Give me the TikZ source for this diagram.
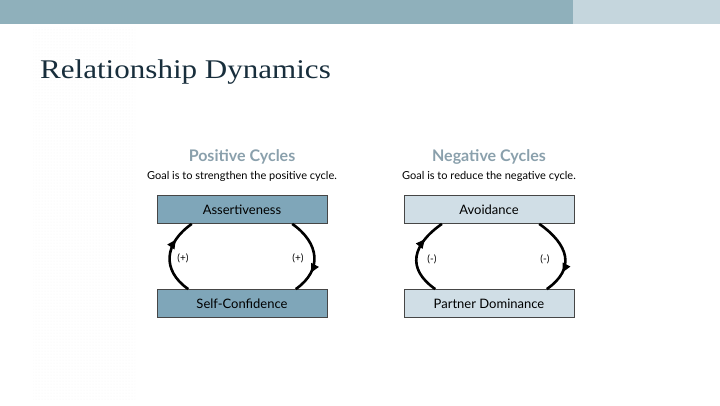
\documentclass[tikz,border=0pt]{standalone}
\usepackage{fontspec}
\setmainfont{Lato}
\newfontfamily\titlefont[FakeStretch=1.15]{Liberation Serif}
\usepackage{tikz}
\usetikzlibrary{positioning, arrows.meta, decorations.markings, patterns}
\definecolor{barblue}{RGB}{143, 176, 187}
\definecolor{barlight}{RGB}{197, 214, 221}
\definecolor{titlenavy}{RGB}{24, 46, 60}
\definecolor{headgray}{RGB}{138, 160, 172}
\definecolor{posfill}{RGB}{127, 166, 185}
\definecolor{negfill}{RGB}{208, 222, 230}
\definecolor{boxline}{RGB}{70, 70, 70}

\begin{document}
\begin{tikzpicture}[x=1pt, y=1pt,
    cycbox/.style={rectangle, draw=boxline, line width=0.8pt, minimum width=170pt,
                   minimum height=28pt, inner sep=0pt, font=\fontsize{13}{15}\selectfont},
    cycarrow/.style={line width=2.6pt, looseness=1.3, postaction={decorate},
                     decoration={markings, mark=at position 0.72 with {\arrow{Triangle[length=9pt, width=8pt]}}}},
    heading/.style={font=\fontsize{16}{18}\selectfont\bfseries, text=headgray},
    goal/.style={font=\fontsize{11}{13}\selectfont},
    sign/.style={font=\fontsize{10}{11}\selectfont}
]
\useasboundingbox (0,0) rectangle (720,405);

% top bar and faint side texture
\fill[barblue] (0,381) rectangle (573,405);
\fill[barlight] (573,381) rectangle (720,405);
\fill[pattern=dots, pattern color=black!5] (33,5) rectangle (135,377);

\node[anchor=base west, inner sep=0pt, font=\titlefont\fontsize{27}{31}\selectfont,
      text=titlenavy] (title) at (40,326) {Relationship Dynamics};

% positive cycle
\node[heading] (poshead) at (242,248) {Positive Cycles};
\node[goal] (posgoal) at (242,229) {Goal is to strengthen the positive cycle.};
\node[cycbox, fill=posfill] (asrt) at (242,195.5) {Assertiveness};
\node[cycbox, fill=posfill] (conf) at (242,101.5) {Self-Confidence};

\draw[cycarrow] (conf.165) to[out=145, in=-145] (asrt.-164);
\draw[cycarrow] (asrt.-16) to[out=-35, in=35] (conf.15);

\node[sign] at (183,147) {(+)};
\node[sign] at (298,147) {(+)};

% negative cycle
\node[heading] (neghead) at (489,248) {Negative Cycles};
\node[goal] (neggoal) at (489,229) {Goal is to reduce the negative cycle.};
\node[cycbox, fill=negfill] (avoid) at (489,195.5) {Avoidance};
\node[cycbox, fill=negfill] (domin) at (489,101.5) {Partner Dominance};

\draw[cycarrow, looseness=1.4] (domin.165) to[out=145, in=-145] (avoid.-163);
\draw[cycarrow, looseness=1.4] (avoid.-16) to[out=-35, in=35] (domin.14);

\node[sign] at (432,146) {(-)};
\node[sign] at (545,146) {(-)};

\end{tikzpicture}
\end{document}
